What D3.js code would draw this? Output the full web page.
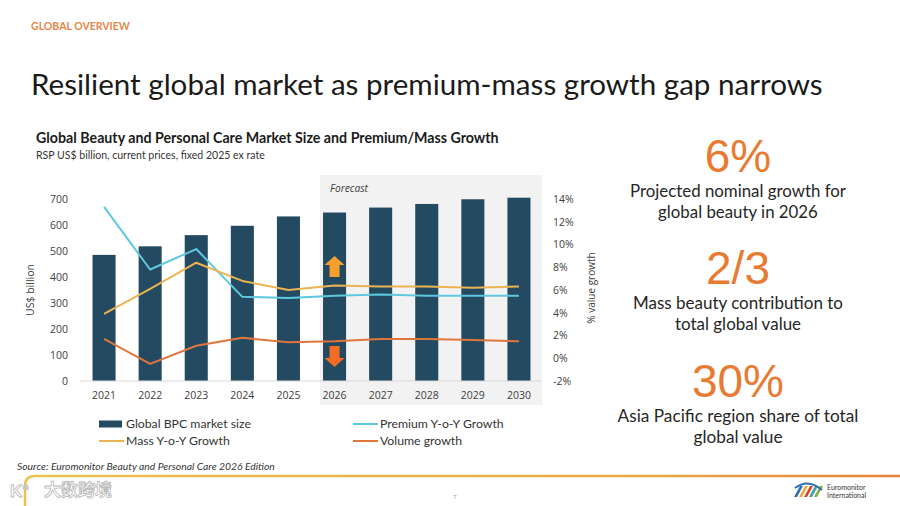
<!DOCTYPE html>
<html>
<head>
<meta charset="utf-8">
<title>Resilient global market as premium-mass growth gap narrows</title>
<style>
    body { margin: 0; background: #ffffff; }
    svg { display: block; }
    .tick text { font-family: "Open Sans", sans-serif; font-size: 10.5px; fill: #404040; }
    .lbl { font-family: "Lato", "Open Sans", sans-serif; fill: #262626; }
</style>
</head>
<body>
<script src="https://cdn.jsdelivr.net/npm/d3@7"></script>
<script>
    // chart values
    var years = ["2021", "2022", "2023", "2024", "2025", "2026", "2027", "2028", "2029", "2030"];
    var marketSize = [485, 518, 561, 597, 633, 648, 667, 681, 699, 705];
    var premiumGrowth = [13.3, 7.8, 9.6, 5.4, 5.3, 5.5, 5.6, 5.5, 5.5, 5.5];
    var massGrowth = [3.9, 6.1, 8.4, 6.8, 6.0, 6.4, 6.3, 6.3, 6.2, 6.3];
    var volumeGrowth = [1.7, -0.5, 1.1, 1.8, 1.4, 1.5, 1.7, 1.7, 1.6, 1.5];
    var leftTicks = [0, 100, 200, 300, 400, 500, 600, 700];
    var rightTicks = [-2, 0, 2, 4, 6, 8, 10, 12, 14];
    var forecastStart = "2026";

    var seriesNames = ["Global BPC market size", "Premium Y-o-Y Growth", "Mass Y-o-Y Growth", "Volume growth"];
    var colors = {bar: "#244a61", premium: "#5ec8df", mass: "#ebb452", volume: "#e0763c"};

    var W = 900, H = 506;

    var svg = d3.select("body").append("svg")
        .attr("width", W)
        .attr("height", H);

    // helper: shrink/grow a text to a target width keeping the font proportions
    function fitWidth(sel, target) {
        var n = sel.node();
        var fs = parseFloat(sel.style("font-size"));
        var len = n.getComputedTextLength();
        if (len > 0) sel.style("font-size", (fs * target / len) + "px");
        return sel;
    }

    // header
    fitWidth(svg.append("text")
        .attr("x", 31).attr("y", 30)
        .style("font-family", "Lato, sans-serif")
        .style("font-weight", "bold")
        .style("font-size", "9px")
        .style("fill", "#e5874a")
        .text("GLOBAL OVERVIEW"), 99);

    fitWidth(svg.append("text")
        .attr("class", "lbl")
        .attr("x", 31).attr("y", 95)
        .style("font-size", "27px")
        .style("fill", "#1a1a1a")
        .text("Resilient global market as premium-mass growth gap narrows"), 792);

    // chart titles
    fitWidth(svg.append("text")
        .attr("class", "lbl")
        .attr("x", 36).attr("y", 143)
        .style("font-weight", "bold")
        .style("font-size", "12.5px")
        .style("fill", "#1a1a1a")
        .text("Global Beauty and Personal Care Market Size and Premium/Mass Growth"), 463);

    fitWidth(svg.append("text")
        .attr("class", "lbl")
        .attr("x", 36).attr("y", 159)
        .style("font-size", "10px")
        .style("fill", "#333")
        .text("RSP US$ billion, current prices, fixed 2025 ex rate"), 229);

    // scales
    var x = d3.scaleBand()
        .domain(years)
        .range([81, 542])
        .paddingInner(0.5)
        .paddingOuter(0.25);
    var yL = d3.scaleLinear().domain([0, 700]).range([381, 199]);
    var yR = d3.scaleLinear().domain([-2, 14]).range([381, 199]);
    var cx = function (yr) { return x(yr) + x.bandwidth() / 2; };

    // forecast shading
    var fx = x(forecastStart) - 3;
    svg.append("rect")
        .attr("x", fx).attr("y", 175)
        .attr("width", 542 - fx).attr("height", 230)
        .attr("fill", "#f2f2f2");

    fitWidth(svg.append("text")
        .attr("x", fx + 10).attr("y", 192)
        .style("font-family", "Open Sans, sans-serif")
        .style("font-style", "italic")
        .style("font-size", "8.5px")
        .style("fill", "#404040")
        .text("Forecast"), 38);

    // bars
    svg.selectAll("rect.bar")
        .data(years)
        .enter()
        .append("rect")
        .attr("class", "bar")
        .attr("x", function (d) { return x(d); })
        .attr("y", function (d, i) { return yL(marketSize[i]); })
        .attr("width", x.bandwidth())
        .attr("height", function (d, i) { return yL(0) - yL(marketSize[i]); })
        .attr("fill", colors.bar);

    // baseline
    svg.append("line")
        .attr("x1", 80).attr("x2", 542)
        .attr("y1", yL(0)).attr("y2", yL(0))
        .attr("stroke", "#d9d9d9").attr("stroke-width", 1);

    // lines
    var line = function (vals) {
        return d3.line()
            .x(function (d) { return cx(d); })
            .y(function (d, i) { return yR(vals[i]); })(years);
    };
    [[premiumGrowth, colors.premium], [massGrowth, colors.mass], [volumeGrowth, colors.volume]].forEach(function (s) {
        svg.append("path")
            .attr("d", line(s[0]))
            .attr("fill", "none")
            .attr("stroke", s[1])
            .attr("stroke-width", 2)
            .attr("stroke-linejoin", "round");
    });

    // arrows in 2026 column
    var ax = cx(forecastStart);
    svg.append("path")
        .attr("d", "M" + ax + ",256 l10,9 h-5 v12 h-10 v-12 h-5 z")
        .attr("fill", "#f5a02e");
    svg.append("path")
        .attr("d", "M" + ax + ",367 l10,-9 h-5 v-12 h-10 v12 h-5 z")
        .attr("fill", "#f26d23");

    // axes
    var gL = svg.append("g")
        .attr("transform", "translate(70,0)")
        .call(d3.axisLeft(yL).tickValues(leftTicks).tickSize(0).tickPadding(2));
    gL.select(".domain").remove();

    var gR = svg.append("g")
        .attr("transform", "translate(553,0)")
        .call(d3.axisRight(yR).tickValues(rightTicks).tickSize(0).tickPadding(0)
            .tickFormat(function (d) { return d + "%"; }));
    gR.select(".domain").remove();

    var gB = svg.append("g")
        .attr("transform", "translate(0," + yL(0) + ")")
        .call(d3.axisBottom(x).tickSize(0).tickPadding(11));
    gB.select(".domain").remove();

    svg.append("text")
        .attr("transform", "translate(34,290) rotate(-90)")
        .attr("text-anchor", "middle")
        .style("font-family", "Open Sans, sans-serif")
        .style("font-size", "10.5px")
        .style("fill", "#404040")
        .text("US$ billion");

    svg.append("text")
        .attr("transform", "translate(595,288) rotate(-90)")
        .attr("text-anchor", "middle")
        .style("font-family", "Open Sans, sans-serif")
        .style("font-size", "10px")
        .style("fill", "#404040")
        .text("% value growth");

    // legend
    var legend = [
        {name: seriesNames[0], color: colors.bar, bar: true, x: 99, y: 424},
        {name: seriesNames[1], color: colors.premium, bar: false, x: 353, y: 424},
        {name: seriesNames[2], color: colors.mass, bar: false, x: 99, y: 441},
        {name: seriesNames[3], color: colors.volume, bar: false, x: 353, y: 441}
    ];
    var legendSize = null;
    legend.forEach(function (l) {
        if (l.bar) {
            svg.append("rect").attr("x", l.x).attr("y", l.y - 3.5)
                .attr("width", 23).attr("height", 7).attr("fill", l.color);
        } else {
            svg.append("line").attr("x1", l.x).attr("x2", l.x + 25)
                .attr("y1", l.y).attr("y2", l.y)
                .attr("stroke", l.color).attr("stroke-width", 2);
        }
        var t = svg.append("text")
            .attr("class", "lbl")
            .attr("x", l.x + 27).attr("y", l.y + 4)
            .style("font-size", legendSize || "11px")
            .style("fill", "#333")
            .text(l.name);
        if (!legendSize) {
            fitWidth(t, 125);
            legendSize = t.style("font-size");
        }
    });

    // source
    fitWidth(svg.append("text")
        .attr("class", "lbl")
        .attr("x", 17).attr("y", 470)
        .style("font-style", "italic")
        .style("font-size", "8.5px")
        .style("fill", "#333")
        .text("Source: Euromonitor Beauty and Personal Care 2026 Edition"), 258);

    // right hand stats
    var stats = [
        {big: "6%", y: 172, lines: ["Projected nominal growth for", "global beauty in 2026"], ly: [197, 218], w: 216},
        {big: "2/3", y: 284, lines: ["Mass beauty contribution to", "total global value"], ly: [309, 330], w: 210},
        {big: "30%", y: 397, lines: ["Asia Pacific region share of total", "global value"], ly: [422, 443], w: 241}
    ];
    stats.forEach(function (s) {
        svg.append("text")
            .attr("x", 738).attr("y", s.y)
            .attr("text-anchor", "middle")
            .style("font-family", "Liberation Sans, Arial, sans-serif")
            .style("font-size", "46px")
            .style("fill", "#e87b32")
            .text(s.big);
        var first = svg.append("text")
            .attr("class", "lbl")
            .attr("x", 738).attr("y", s.ly[0])
            .attr("text-anchor", "middle")
            .style("font-size", "15px")
            .text(s.lines[0]);
        fitWidth(first, s.w);
        svg.append("text")
            .attr("class", "lbl")
            .attr("x", 738).attr("y", s.ly[1])
            .attr("text-anchor", "middle")
            .style("font-size", first.style("font-size"))
            .text(s.lines[1]);
    });

    // footer rule
    var grad = svg.append("defs").append("linearGradient")
        .attr("id", "rule").attr("x1", "0%").attr("x2", "100%");
    grad.append("stop").attr("offset", "0%").attr("stop-color", "#eac24e");
    grad.append("stop").attr("offset", "70%").attr("stop-color", "#e8a945");
    grad.append("stop").attr("offset", "100%").attr("stop-color", "#e5833c");
    svg.append("path")
        .attr("d", "M25,506 V486 Q25,476 35,476 H900")
        .attr("fill", "none")
        .attr("stroke", "url(#rule)")
        .attr("stroke-width", 2.5);

    // watermark
    svg.append("text")
        .attr("x", 10).attr("y", 497)
        .style("font-family", "Liberation Sans, sans-serif")
        .style("font-size", "17px")
        .style("font-weight", "bold")
        .style("fill", "#ffffff")
        .style("stroke", "#b8b8b8")
        .style("stroke-width", 0.8)
        .text("K°");
    svg.append("text")
        .attr("x", 44).attr("y", 496)
        .style("font-family", "Noto Sans CJK SC, sans-serif")
        .style("font-size", "17px")
        .style("font-weight", "bold")
        .style("fill", "#ffffff")
        .style("stroke", "#b8b8b8")
        .style("stroke-width", 0.8)
        .text("大数跨境");

    svg.append("text")
        .attr("x", 455).attr("y", 499)
        .attr("text-anchor", "middle")
        .style("font-family", "Open Sans, sans-serif")
        .style("font-size", "6px")
        .style("fill", "#999")
        .text("7");

    // Euromonitor mark
    var logoCols = ["#2a6db5", "#e9a93b", "#d9452b", "#3aa0a0", "#7bb342"];
    logoCols.forEach(function (c, i) {
        svg.append("path")
            .attr("d", "M" + (794 + i * 5) + ",497 l6,-11 h3 l-6,11 z")
            .attr("fill", c);
    });
    svg.append("path")
        .attr("d", "M795,488 Q808,478 822,490")
        .attr("fill", "none").attr("stroke", "#2a6db5").attr("stroke-width", 2);
    svg.append("text")
        .attr("x", 827).attr("y", 490)
        .style("font-family", "Lato, sans-serif")
        .style("font-size", "7px")
        .style("fill", "#333")
        .text("Euromonitor");
    svg.append("text")
        .attr("x", 827).attr("y", 498)
        .style("font-family", "Lato, sans-serif")
        .style("font-size", "7px")
        .style("fill", "#333")
        .text("International");
</script>
</body>
</html>
